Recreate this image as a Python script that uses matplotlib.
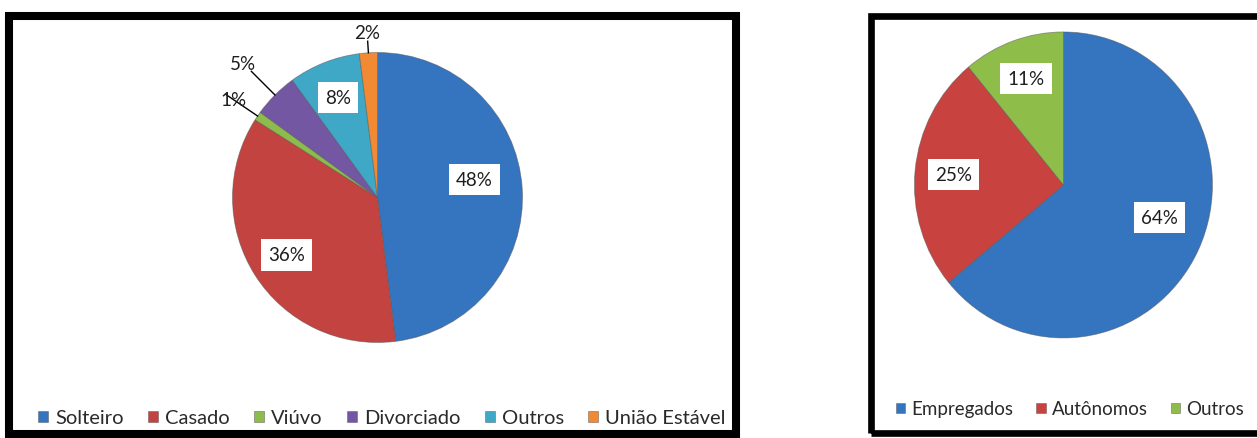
import numpy as np
import matplotlib
matplotlib.use("Agg")
import matplotlib.pyplot as plt
from matplotlib.patches import Rectangle

plt.rcParams['font.family'] = ['Lato', 'DejaVu Sans']

# left chart: estado civil
civil_labels = ["Solteiro", "Casado", "Viúvo", "Divorciado", "Outros", "União Estável"]
civil_values = [48, 36, 1, 5, 8, 2]
civil_colors = ["#3574bf", "#c2433f", "#8dbb4c", "#7457a3", "#3ea8c6", "#f28a34"]

# right chart: ocupacao
ocup_labels = ["Empregados", "Autônomos", "Outros"]
ocup_values = [64, 25, 11]
ocup_colors = ["#3574bf", "#c8433f", "#8fbd4a"]

W, H = 1257, 439
fig = plt.figure(figsize=(W / 100, H / 100), dpi=100)


def fx(x):
    return x / W


def fy(y):
    return 1 - y / H


# outer black frames (screenshot style)
fig.patches.append(Rectangle((fx(9), fy(435)), fx(736) - fx(9), fy(17) - fy(435),
                             transform=fig.transFigure, fill=False,
                             edgecolor="black", linewidth=5.8, zorder=0))
fig.patches.append(Rectangle((fx(871), fy(433.5)), fx(1270) - fx(871), fy(16.5) - fy(433.5),
                             transform=fig.transFigure, fill=False,
                             edgecolor="black", linewidth=4.8, zorder=0))

box = dict(boxstyle="square,pad=0.38", facecolor="white", edgecolor="none")
# where small-slice labels sit outside the pie: (text radius, line end radius)
outside = {"1%": (1.20, 1.26), "5%": (1.31, 1.23), "2%": (1.14, 1.08)}


def draw_pie(ax, values, colors):
    wedges, _ = ax.pie(values, colors=colors, startangle=90, counterclock=False,
                       wedgeprops=dict(edgecolor="#55555588", linewidth=0.6))
    ax.set_aspect("auto")
    ax.set_xlim(-1.05, 1.05)
    ax.set_ylim(-1.05, 1.05)
    ax.axis("off")
    for w, v in zip(wedges, values):
        mid = np.deg2rad((w.theta1 + w.theta2) / 2)
        c, s = np.cos(mid), np.sin(mid)
        txt = f"{v}%"
        if txt in outside and v < 6:
            rt, rl = outside[txt]
            ax.plot([c, rl * c], [s, rl * s], color="black", lw=1, clip_on=False)
            ax.text(rt * c, rt * s, txt, ha="center", va="center", fontsize=13.5,
                    color="#1e1e1e", clip_on=False)
        else:
            if v > 40:
                # Excel pushes the big label a bit up from the mid angle
                mid += np.deg2rad(7)
                c, s = np.cos(mid), np.sin(mid)
                r = 0.68
            else:
                r = 0.74
            ax.text(r * c, r * s, txt, ha="center", va="center", fontsize=13.5,
                    color="#1e1e1e", bbox=box)
    return wedges


ax1 = fig.add_axes([fx(225.25), fy(350.75), 304.5 / W, 304.5 / H])
w1 = draw_pie(ax1, civil_values, civil_colors)

ax2 = fig.add_axes([fx(907), fy(346.6), 312.9 / W, 321.3 / H])
w2 = draw_pie(ax2, ocup_values, ocup_colors)

leg_kw = dict(frameon=False, handlelength=0.5, handleheight=0.5,
              handletextpad=0.35, borderpad=0, labelcolor="#2a2a2a")
fig.legend(w1, civil_labels, loc="center", ncol=6, columnspacing=1.2, fontsize=14.5,
           bbox_to_anchor=(fx(382), fy(419)), **leg_kw)
fig.legend(w2, ocup_labels, loc="center", ncol=3, columnspacing=1.2, fontsize=13.5,
           bbox_to_anchor=(fx(1070), fy(410)), **leg_kw)

fig.savefig("out.png", dpi=100)
